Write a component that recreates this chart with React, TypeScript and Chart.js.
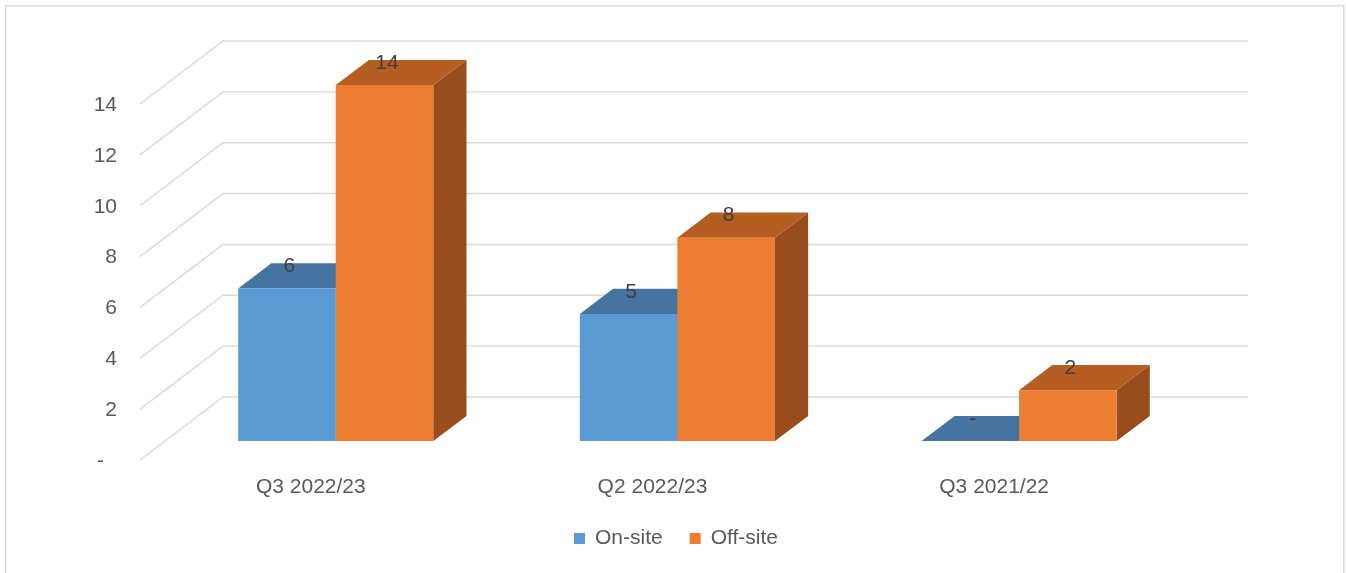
import React, { useEffect, useRef } from "react";
import { Chart, registerables } from "chart.js";

Chart.register(...registerables);

// ---- data ----
const categories = ["Q3 2022/23", "Q2 2022/23", "Q3 2021/22"];
const seriesNames = ["On-site", "Off-site"];
const onSite = [6, 5, 0];
const offSite = [14, 8, 2];
const yTicks = [0, 2, 4, 6, 8, 10, 12, 14];

// ---- styling ----
const W = 1346;
const H = 573;
const DEPTH_X = 83;
const DEPTH_Y = -63;
const BAR_FRONT = 0.3;
const BAR_BACK = 0.7;
const FONT_FAMILY = '"Liberation Sans", Arial, sans-serif';
const FONT = `21px ${FONT_FAMILY}`;
const frontFaces = ["#5B9BD5", "#ED7D31"];
const topFaces = ["#44749F", "#B55E22"];
const sideFaces = ["#3A648A", "#9A4D1C"];
const GRID = "#D9D9D9";
const AXIS_TEXT = "#595959";
const LABEL_TEXT = "#404040";

const fmt = (v: number) => (v === 0 ? "-" : String(v));

const excel3d = {
  id: "excel3d",
  beforeDraw(chart: any) {
    const ctx = chart.ctx as CanvasRenderingContext2D;
    const ys = chart.scales.y;
    const xs = chart.scales.x;
    const area = chart.chartArea;
    ctx.save();
    ctx.fillStyle = "#ffffff";
    ctx.fillRect(0, 0, W, H);
    // outer border
    ctx.strokeStyle = GRID;
    ctx.lineWidth = 1.5;
    ctx.strokeRect(5.75, 5.75, 1338, H + 40);
    // walls gridlines
    ctx.lineWidth = 1.4;
    for (const v of yTicks) {
      const py = ys.getPixelForValue(v);
      ctx.beginPath();
      ctx.moveTo(area.left, py);
      ctx.lineTo(area.left + DEPTH_X, py + DEPTH_Y);
      ctx.lineTo(area.right + DEPTH_X, py + DEPTH_Y);
      ctx.stroke();
    }
    // y tick labels
    ctx.font = FONT;
    ctx.fillStyle = AXIS_TEXT;
    ctx.textBaseline = "middle";
    ctx.textAlign = "right";
    for (const v of yTicks) {
      const py = ys.getPixelForValue(v);
      const txt = fmt(v);
      ctx.fillText(txt, v === 0 ? area.left - 36 : area.left - 23, py + 1);
    }
    // x category labels
    ctx.textAlign = "center";
    categories.forEach((c, i) => {
      const px = xs.getPixelForValue(i);
      ctx.fillText(c, px, area.bottom + 27);
    });
    ctx.restore();
  },
  afterDatasetsDraw(chart: any) {
    const ctx = chart.ctx as CanvasRenderingContext2D;
    const fx = DEPTH_X * BAR_FRONT;
    const fy = DEPTH_Y * BAR_FRONT;
    const bx = DEPTH_X * BAR_BACK;
    const by = DEPTH_Y * BAR_BACK;
    ctx.save();
    const metas = chart.data.datasets.map((_: any, d: number) => chart.getDatasetMeta(d));
    const poly = (pts: number[][], color: string) => {
      ctx.beginPath();
      ctx.moveTo(pts[0][0], pts[0][1]);
      for (let k = 1; k < pts.length; k++) ctx.lineTo(pts[k][0], pts[k][1]);
      ctx.closePath();
      ctx.fillStyle = color;
      ctx.fill();
    };
    for (let i = 0; i < categories.length; i++) {
      metas.forEach((meta: any, d: number) => {
        const el = meta.data[i];
        const l = el.x - el.width / 2;
        const r = el.x + el.width / 2;
        const t = el.y;
        const b = el.base;
        // side
        poly(
          [
            [r + fx, t + fy],
            [r + bx, t + by],
            [r + bx, b + by],
            [r + fx, b + fy],
          ],
          sideFaces[d]
        );
        // top
        poly(
          [
            [l + fx, t + fy],
            [r + fx, t + fy],
            [r + bx, t + by],
            [l + bx, t + by],
          ],
          topFaces[d]
        );
        // front
        if (b - t > 0.1) {
          poly(
            [
              [l + fx, t + fy],
              [r + fx, t + fy],
              [r + fx, b + fy],
              [l + fx, b + fy],
            ],
            frontFaces[d]
          );
        }
      });
    }
    // data labels
    ctx.font = FONT;
    ctx.fillStyle = LABEL_TEXT;
    ctx.textAlign = "center";
    ctx.textBaseline = "middle";
    metas.forEach((meta: any, d: number) => {
      const values = chart.data.datasets[d].data as number[];
      meta.data.forEach((el: any, i: number) => {
        ctx.fillText(fmt(values[i]), el.x + fx + 2.5, el.y + fy - 22);
      });
    });
    // legend
    ctx.font = FONT;
    ctx.textAlign = "left";
    ctx.textBaseline = "middle";
    let lx = 574;
    const ly = 538.5;
    seriesNames.forEach((name, d) => {
      ctx.fillStyle = frontFaces[d];
      ctx.fillRect(lx, ly - 5.5, 11, 11);
      ctx.fillStyle = AXIS_TEXT;
      ctx.fillText(name, lx + 21, ly);
      lx += 21 + ctx.measureText(name).width + 27;
    });
    ctx.restore();
  },
};

export default function App() {
  const ref = useRef<HTMLCanvasElement | null>(null);
  useEffect(() => {
    if (!ref.current) return;
    const chart = new Chart(ref.current, {
      type: "bar",
      data: {
        labels: categories,
        datasets: [
          {
            label: seriesNames[0],
            data: onSite,
            backgroundColor: "rgba(0,0,0,0)",
            borderWidth: 0,
            categoryPercentage: 0.571,
            barPercentage: 1,
          },
          {
            label: seriesNames[1],
            data: offSite,
            backgroundColor: "rgba(0,0,0,0)",
            borderWidth: 0,
            categoryPercentage: 0.571,
            barPercentage: 1,
          },
        ],
      },
      options: {
        animation: false,
        responsive: false,
        events: [],
        layout: { padding: { left: 140, right: W - 1165, top: 104, bottom: H - 460 } },
        plugins: { legend: { display: false }, tooltip: { enabled: false } },
        scales: {
          x: { display: false, offset: true },
          y: { display: false, min: 0, max: 14, ticks: { stepSize: 2 } },
        },
      },
      plugins: [excel3d],
    });
    return () => chart.destroy();
  }, []);
  return (
    <div style={{ position: "fixed", left: 0, top: 0, width: W, height: H, background: "#fff" }}>
      <canvas ref={ref} width={W} height={H} style={{ width: W, height: H, display: "block" }} />
    </div>
  );
}
